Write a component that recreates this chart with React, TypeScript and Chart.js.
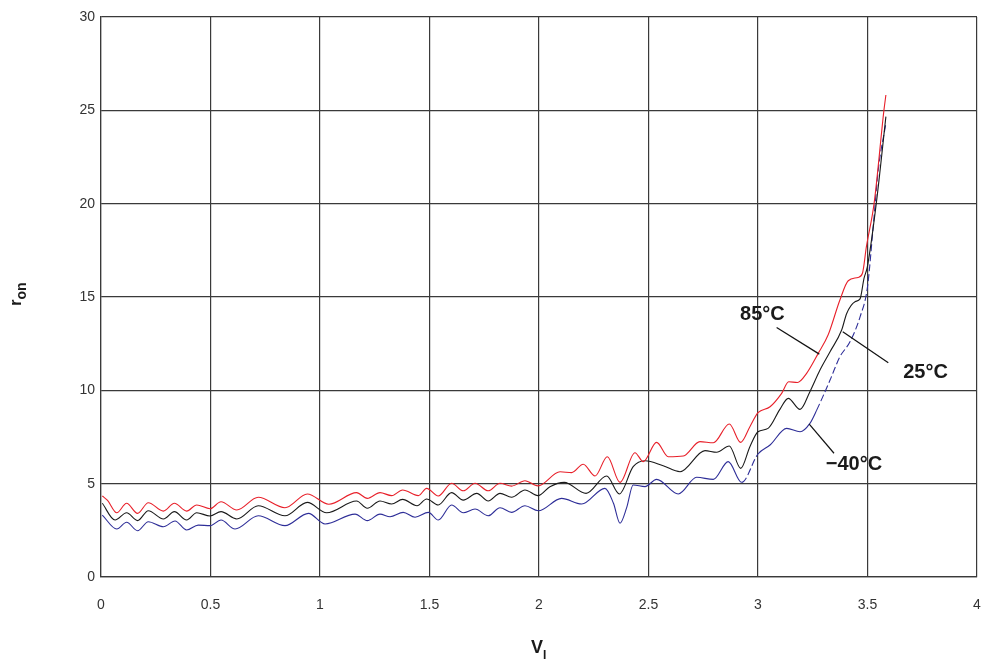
import React, { useEffect, useRef } from "react";
import { Chart, registerables } from "chart.js";

Chart.register(...registerables);

// V_I values (x) and r_on values (y) for each temperature
const red85X = [0.006, 0.03, 0.072, 0.117, 0.167, 0.216, 0.285, 0.335, 0.391, 0.437, 0.498, 0.548, 0.62, 0.718, 0.84, 0.942, 1.04, 1.167, 1.216, 1.274, 1.327, 1.377, 1.449, 1.487, 1.54, 1.601, 1.654, 1.708, 1.768, 1.822, 1.875, 1.936, 1.995, 2.096, 2.149, 2.202, 2.256, 2.312, 2.37, 2.438, 2.476, 2.537, 2.59, 2.659, 2.735, 2.796, 2.869, 2.921, 2.963, 3.0, 3.055, 3.108, 3.14, 3.18, 3.222, 3.275, 3.32, 3.374, 3.412, 3.457, 3.477, 3.495, 3.53, 3.575, 3.584];
const red85Y = [4.34, 4.1, 3.44, 3.95, 3.41, 3.98, 3.53, 3.95, 3.53, 3.86, 3.66, 4.03, 3.59, 4.27, 3.71, 4.45, 3.9, 4.52, 4.21, 4.52, 4.36, 4.66, 4.36, 4.75, 4.34, 5.02, 4.62, 5.02, 4.62, 5.02, 4.87, 5.16, 4.88, 5.64, 5.59, 6.04, 5.41, 6.44, 5.07, 6.66, 6.18, 7.21, 6.44, 6.48, 7.25, 7.19, 8.2, 7.21, 8.05, 8.8, 9.12, 9.84, 10.46, 10.42, 10.91, 11.98, 12.96, 14.84, 15.87, 16.05, 16.27, 17.7, 20.0, 25.0, 25.82];

const black25X = [0.006, 0.064, 0.117, 0.167, 0.216, 0.285, 0.335, 0.391, 0.437, 0.498, 0.548, 0.62, 0.718, 0.84, 0.942, 1.03, 1.167, 1.216, 1.274, 1.327, 1.377, 1.443, 1.487, 1.54, 1.601, 1.654, 1.716, 1.768, 1.822, 1.875, 1.936, 1.995, 2.05, 2.115, 2.215, 2.309, 2.367, 2.43, 2.484, 2.567, 2.644, 2.758, 2.811, 2.869, 2.921, 2.963, 3.0, 3.046, 3.1, 3.138, 3.192, 3.237, 3.283, 3.329, 3.382, 3.405, 3.443, 3.466, 3.484, 3.499, 3.54, 3.584];
const black25Y = [3.95, 3.05, 3.44, 3.02, 3.55, 3.11, 3.5, 3.05, 3.44, 3.27, 3.5, 3.11, 3.82, 3.28, 4.0, 3.44, 4.07, 3.68, 4.07, 3.91, 4.16, 3.82, 4.18, 3.86, 4.52, 4.12, 4.48, 4.07, 4.48, 4.27, 4.66, 4.36, 4.84, 5.07, 4.48, 5.41, 4.45, 5.91, 6.23, 5.96, 5.64, 6.77, 6.68, 7.02, 5.82, 6.98, 7.78, 7.96, 8.98, 9.57, 8.98, 9.93, 11.09, 12.07, 13.23, 14.12, 14.75, 14.9, 16.0, 16.6, 20.0, 24.66];

const blue40X = [0.006, 0.072, 0.117, 0.167, 0.216, 0.285, 0.338, 0.391, 0.444, 0.498, 0.548, 0.612, 0.718, 0.84, 0.947, 1.023, 1.16, 1.216, 1.274, 1.32, 1.38, 1.434, 1.495, 1.54, 1.601, 1.654, 1.708, 1.768, 1.822, 1.875, 1.936, 1.997, 2.103, 2.195, 2.301, 2.34, 2.37, 2.4, 2.43, 2.484, 2.537, 2.636, 2.72, 2.796, 2.864, 2.925, 3.0, 3.055, 3.131, 3.192, 3.237, 3.268, 3.329, 3.374, 3.42, 3.466, 3.5, 3.526, 3.549, 3.584];
const blue40Y = [3.32, 2.57, 2.93, 2.48, 2.96, 2.69, 3.0, 2.52, 2.78, 2.75, 3.05, 2.57, 3.28, 2.75, 3.41, 2.84, 3.37, 3.02, 3.37, 3.23, 3.46, 3.2, 3.46, 3.05, 3.86, 3.44, 3.64, 3.28, 3.71, 3.46, 3.82, 3.55, 4.21, 3.91, 4.75, 3.95, 2.88, 3.7, 4.93, 4.84, 5.23, 4.45, 5.34, 5.23, 6.18, 5.07, 6.59, 7.07, 7.96, 7.78, 8.23, 8.94, 10.55, 11.8, 12.6, 13.94, 15.55, 18.76, 21.8, 24.3];

const xTicks = [0, 0.5, 1, 1.5, 2, 2.5, 3, 3.5, 4];
const yTicks = [0, 5, 10, 15, 20, 25, 30];

const seriesLabels = ["85°C", "25°C", "−40°C"];

const zip = (xs: number[], ys: number[]) => xs.map((x, i) => ({ x, y: ys[i] }));

const annotationPlugin = {
  id: "annot",
  afterDraw(chart: any) {
    const { ctx, scales } = chart;
    const xs = scales.x;
    const ys = scales.y;
    const px = (v: number) => xs.getPixelForValue(v);
    const py = (v: number) => ys.getPixelForValue(v);
    ctx.save();
    // leader lines
    ctx.strokeStyle = "#111";
    ctx.lineWidth = 1.2;
    const leaders = [
      [3.085, 13.37, 3.28, 11.94],
      [3.387, 13.14, 3.595, 11.48],
      [3.234, 8.19, 3.347, 6.63],
    ];
    leaders.forEach(([x0, y0, x1, y1]) => {
      ctx.beginPath();
      ctx.moveTo(px(x0), py(y0));
      ctx.lineTo(px(x1), py(y1));
      ctx.stroke();
    });
    // labels
    ctx.fillStyle = "#1a1a1a";
    ctx.font = "bold 20px 'Liberation Sans', Arial, sans-serif";
    ctx.textAlign = "center";
    ctx.textBaseline = "middle";
    const pos = [
      [3.02, 14.06],
      [3.765, 10.95],
      [3.438, 6.03],
    ];
    seriesLabels.forEach((t, i) => {
      ctx.fillText(t, px(pos[i][0]), py(pos[i][1]));
    });

    // x axis title V_I
    ctx.textAlign = "left";
    ctx.textBaseline = "alphabetic";
    ctx.font = "bold 18px 'Liberation Sans', Arial, sans-serif";
    const vW = ctx.measureText("V").width;
    const cx = (xs.left + xs.right) / 2;
    const xStart = cx - (vW + 4) / 2;
    ctx.fillText("V", xStart, 653);
    ctx.font = "bold 12px 'Liberation Sans', Arial, sans-serif";
    ctx.fillText("I", xStart + vW, 659);

    // y axis title r_on
    ctx.save();
    ctx.translate(21, 294);
    ctx.rotate(-Math.PI / 2);
    ctx.font = "bold 16px 'Liberation Sans', Arial, sans-serif";
    const rW = ctx.measureText("r").width;
    ctx.font = "bold 14px 'Liberation Sans', Arial, sans-serif";
    const onW = ctx.measureText("on").width;
    const total = rW + onW;
    ctx.font = "bold 16px 'Liberation Sans', Arial, sans-serif";
    ctx.fillText("r", -total / 2, 0);
    ctx.font = "bold 14px 'Liberation Sans', Arial, sans-serif";
    ctx.fillText("on", -total / 2 + rW, 5);
    ctx.restore();

    ctx.restore();
  },
};

export default function App() {
  const canvasRef = useRef<HTMLCanvasElement | null>(null);

  useEffect(() => {
    document.body.style.margin = "0";
    const canvas = canvasRef.current;
    if (!canvas) return;
    const blueDash = (c: any) => {
      const a = c.p0.parsed.x;
      const b = c.p1.parsed.x;
      if ((a >= 2.92 && b <= 3.001) || a >= 3.26) return [7, 3];
      return undefined;
    };
    const chart = new Chart(canvas, {
      type: "line",
      data: {
        datasets: [
          {
            label: seriesLabels[0],
            data: zip(red85X, red85Y),
            borderColor: "#e8202a",
            borderWidth: 1.1,
            pointRadius: 0,
            cubicInterpolationMode: "monotone",
            fill: false,
          },
          {
            label: seriesLabels[1],
            data: zip(black25X, black25Y),
            borderColor: "#1a1a1a",
            borderWidth: 1.1,
            pointRadius: 0,
            cubicInterpolationMode: "monotone",
            fill: false,
          },
          {
            label: seriesLabels[2],
            data: zip(blue40X, blue40Y),
            borderColor: "#2e2e98",
            borderWidth: 1.1,
            pointRadius: 0,
            cubicInterpolationMode: "monotone",
            fill: false,
            segment: { borderDash: blueDash },
          },
        ],
      },
      options: {
        animation: false,
        responsive: false,
        layout: { padding: { top: 17, right: 7, left: 0, bottom: 0 } },
        plugins: { legend: { display: false }, tooltip: { enabled: false } },
        scales: {
          x: {
            type: "linear",
            min: 0,
            max: 4,
            afterFit: (s: any) => {
              s.height = 86;
              s.paddingLeft = 0;
              s.paddingRight = 0;
            },
            afterBuildTicks: (s: any) => {
              s.ticks = xTicks.map((v) => ({ value: v }));
            },
            ticks: {
              padding: 20,
              color: "#333",
              font: { family: "'Liberation Sans Narrow', 'Liberation Sans', Arial, sans-serif", size: 14 },
              maxRotation: 0,
              callback: (v: any) => String(v),
            },
            grid: { color: "#3a3a3a", lineWidth: 1.2, drawTicks: false },
            border: { display: true, color: "#3a3a3a", width: 1.2 },
          },
          y: {
            type: "linear",
            min: 0,
            max: 30,
            afterFit: (s: any) => {
              s.width = 101;
              s.paddingTop = 0;
              s.paddingBottom = 0;
            },
            afterBuildTicks: (s: any) => {
              s.ticks = yTicks.map((v) => ({ value: v }));
            },
            ticks: {
              padding: 6,
              color: "#333",
              font: { family: "'Liberation Sans', Arial, sans-serif", size: 14 },
              callback: (v: any) => String(v),
            },
            grid: { color: "#3a3a3a", lineWidth: 1.2, drawTicks: false },
            border: { display: true, color: "#3a3a3a", width: 1.2 },
          },
        },
      },
      plugins: [annotationPlugin],
    } as any);
    return () => chart.destroy();
  }, []);

  return (
    <div style={{ width: 984, height: 663 }}>
      <canvas ref={canvasRef} width={984} height={663} />
    </div>
  );
}
